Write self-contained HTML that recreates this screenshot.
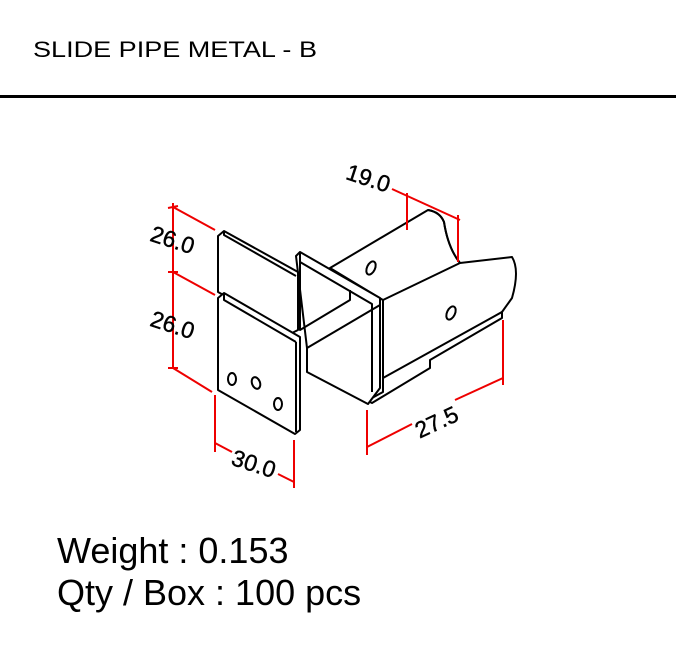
<!DOCTYPE html>
<html><head><style>
body{margin:0;background:#fff;width:676px;height:649px;overflow:hidden;font-family:"Liberation Sans",sans-serif}
</style></head><body>
<svg width="676" height="649" viewBox="0 0 676 649" xmlns="http://www.w3.org/2000/svg">
<text x="33" y="57" font-family="Liberation Sans" font-size="22" fill="#000" textLength="284" lengthAdjust="spacingAndGlyphs">SLIDE PIPE METAL - B</text>
<rect x="0" y="95" width="676" height="3" fill="#000"/>
<g fill="#fff" stroke="#000" stroke-width="2" stroke-linejoin="round">
<path d="M330,268 L428,210 Q440,212 444,222 Q448,248 460,263 L512,257 Q520,270 512,298 L502,312 L383,382 L383,300 Z"/>
<path d="M428,210 Q440,212 444,222 Q448,248 460,263" fill="none"/>
<path d="M383,300 L460,263" fill="none"/>
<ellipse cx="371" cy="268" rx="4" ry="7" transform="rotate(25 371 268)"/>
<ellipse cx="451" cy="313" rx="4" ry="7" transform="rotate(25 451 313)"/>
<path d="M383,378 L502,312 L502,318 L430,360 L430,368 L372,403 L366,400 L366,390 L372,388 L372,398 L383,392 Z"/>
<path d="M296,256 L300,252 L380,298 L380,388 L368,404 L307,372 L307,348 Z"/>
<path d="M300,252 L300,262 L372,304 L372,392" fill="none"/>
<path d="M307,348 L380,305" fill="none"/>
<path d="M300,262 L300,330 L350,300 L350,290" fill="none"/>
<path d="M218,236 L224,231 L298,272 L298,330 L292,333 L218,292 Z"/>
<path d="M224,231 L224,235 L296,276" fill="none"/>
<path d="M218,298 L224,293 L300,337 L300,430 L295,434 L218,390 Z"/>
<path d="M224,293 L224,300 L296,342" fill="none"/>
<path d="M296,342 L296,432" fill="none"/>
<ellipse cx="232" cy="379" rx="4" ry="6"/>
<ellipse cx="256" cy="383" rx="4" ry="6" transform="rotate(-20 256 383)"/>
<ellipse cx="278" cy="404" rx="4" ry="6"/>
</g>
<g stroke="#e00" stroke-width="2" fill="none">
<path d="M173,203 L173,368"/><path d="M168,272 L178,272"/><path d="M168,208 L178,206"/><path d="M168,368 L178,368"/>
<path d="M173,207 L215,230"/><path d="M173,272 L215,295"/><path d="M173,368 L212,392"/>
<path d="M215,395 L215,452"/><path d="M294,440 L294,488"/>
<path d="M215,443 L232,452"/><path d="M278,474 L294,482"/>
<path d="M367,410 L367,455"/><path d="M503,320 L503,385"/>
<path d="M367,447 L412,424"/><path d="M455,400 L503,378"/>
<path d="M407,193 L407,230"/><path d="M458,215 L458,262"/>
<path d="M392,189 L460,220"/>
</g>
<g font-family="Liberation Sans" font-size="23" fill="#000" stroke="#000" stroke-width="0.4">
<text x="150" y="247" transform="rotate(18 170 240)">26.0</text>
<text x="150" y="332" transform="rotate(18 170 325)">26.0</text>
<text x="232" y="472" transform="rotate(18 255 462)">30.0</text>
<text x="411" y="430" transform="rotate(-25 435 415)">27.5</text>
<text x="346" y="186" transform="rotate(18 368 178)">19.0</text>
</g>
<text x="57" y="563" font-family="Liberation Sans" font-size="36" fill="#000">Weight : 0.153</text>
<text x="57" y="605" font-family="Liberation Sans" font-size="36" fill="#000">Qty / Box : 100 pcs</text>
</svg>
</body></html>
